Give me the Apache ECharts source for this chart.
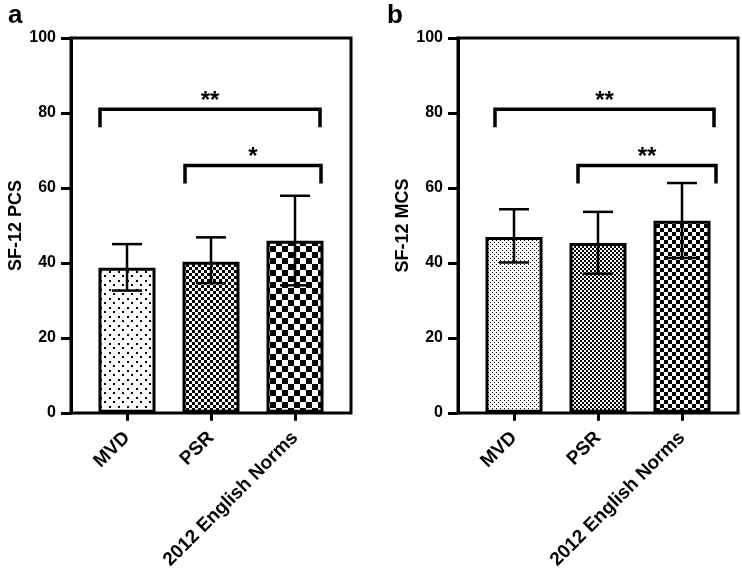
<!DOCTYPE html>
<html><head><meta charset="utf-8">
<script src="https://cdn.jsdelivr.net/npm/echarts@6/dist/echarts.min.js"></script>
<style>html,body{margin:0;padding:0;background:#fff}#c{width:742px;height:572px}</style>
</head><body><div id="c"></div>
<script>
// ---- data ----
const categories = ['MVD', 'PSR', '2012 English Norms'];
const yTicks = [0, 20, 40, 60, 80, 100];
const pcsMean = [38.7, 40.3, 45.9];
const pcsLow  = [32.6, 34.6, 34.0];
const pcsHigh = [45.0, 46.8, 57.9];
const mcsMean = [46.9, 45.3, 51.2];
const mcsLow  = [40.1, 37.1, 41.3];
const mcsHigh = [54.3, 53.6, 61.3];
// [fromCategory, toCategory, level, label]
const pcsBrackets = [[0, 2, 81, '**'], [1, 2, 66, '*']];
const mcsBrackets = [[0, 2, 81, '**'], [1, 2, 66, '**']];

// ---- styles ----
const FONT = 'Liberation Sans';
function pattern(size, draw) {
  const c = document.createElement('canvas');
  c.width = c.height = size;
  const ctx = c.getContext('2d');
  ctx.fillStyle = '#fff'; ctx.fillRect(0, 0, size, size);
  ctx.fillStyle = '#000'; draw(ctx, size);
  return { image: c, repeat: 'repeat' };
}
const checker = n => pattern(2 * n, ctx => { ctx.fillRect(0, 0, n, n); ctx.fillRect(n, n, n, n); });
const dots = pattern(9, ctx => { ctx.fillRect(1, 1, 2, 2); ctx.fillRect(5, 5, 2, 2); });
const stipple = pattern(4, ctx => { ctx.fillRect(0, 0, 1, 1); ctx.fillRect(2, 2, 1, 1); });
const pcsFills = [dots, checker(3), checker(6)];
const mcsFills = [stipple, checker(2), checker(4)];
// pixel offsets of bracket legs from category centres
const pcsLegOffsets = [[-27, 25], [-26, 26]];
const mcsLegOffsets = [[-19, 32], [-20, 34]];

function errRender(params, api) {
  const x = api.value(0);
  const top = api.coord([x, api.value(2)]);
  const bot = api.coord([x, api.value(1)]);
  const hw = 15;
  const style = { stroke: '#000', lineWidth: 2.5 };
  return { type: 'group', children: [
    { type: 'line', shape: { x1: top[0], y1: top[1], x2: bot[0], y2: bot[1] }, style },
    { type: 'line', shape: { x1: top[0] - hw, y1: top[1], x2: top[0] + hw, y2: top[1] }, style },
    { type: 'line', shape: { x1: bot[0] - hw, y1: bot[1], x2: bot[0] + hw, y2: bot[1] }, style }
  ]};
}
function bracketRender(offsets, labels) {
  return function (params, api) {
    const p1 = api.coord([api.value(0), api.value(2)]);
    const p2 = api.coord([api.value(1), api.value(2)]);
    const off = offsets[params.dataIndex];
    const x1 = p1[0] + off[0], x2 = p2[0] + off[1], y = p1[1];
    const leg = 18;
    return { type: 'group', children: [
      { type: 'polyline', shape: { points: [[x1, y + leg], [x1, y], [x2, y], [x2, y + leg]] },
        style: { stroke: '#000', lineWidth: 3.5, fill: null } },
      { type: 'text', style: { text: labels[params.dataIndex], x: (x1 + x2) / 2, y: y - 8,
        textAlign: 'center', textVerticalAlign: 'middle', font: 'bold 24px ' + FONT, fill: '#000' } }
    ]};
  };
}

const frameGrid = left => ({ left, top: 38, width: 280, height: 375, show: true,
  borderColor: '#000', borderWidth: 3, backgroundColor: 'transparent' });
const dataGrid = left => ({ left, top: 38, width: 252, height: 375 });
const frameY = (gi, name, gap) => ({ type: 'value', gridIndex: gi, min: yTicks[0], max: yTicks[yTicks.length - 1],
  interval: yTicks[1] - yTicks[0], splitLine: { show: false },
  axisLine: { show: true, lineStyle: { color: '#000', width: 3 } },
  axisTick: { show: true, length: 10, lineStyle: { color: '#000', width: 3 } },
  axisLabel: { color: '#000', fontSize: 16, fontWeight: 'bold', fontFamily: FONT, margin: 15 },
  name, nameLocation: 'middle', nameGap: gap,
  nameTextStyle: { color: '#000', fontSize: 18, fontWeight: 'bold', fontFamily: FONT } });
const dataY = gi => ({ type: 'value', gridIndex: gi, min: 0, max: 100, show: false });
const frameX = gi => ({ type: 'value', gridIndex: gi, show: false });
const dataX = gi => ({ type: 'category', gridIndex: gi, data: categories,
  axisLine: { show: false },
  axisTick: { show: true, alignWithLabel: true, length: 8, lineStyle: { color: '#000', width: 3 } },
  axisLabel: { rotate: 45, color: '#000', fontSize: 19, fontWeight: 'bold', fontFamily: FONT, margin: 22, interval: 0 } });

function panelSeries(axisIdx, mean, low, high, fills, brackets, offsets) {
  return [
    { type: 'bar', xAxisIndex: axisIdx, yAxisIndex: axisIdx, barWidth: 57,
      data: mean.map((v, i) => ({ value: v, itemStyle: { color: fills[i], borderColor: '#000', borderWidth: 3 } })),
      z: 2 },
    { type: 'custom', xAxisIndex: axisIdx, yAxisIndex: axisIdx, renderItem: errRender,
      data: mean.map((v, i) => [i, low[i], high[i]]), encode: { x: 0, y: [1, 2] }, z: 4 },
    { type: 'custom', xAxisIndex: axisIdx, yAxisIndex: axisIdx,
      renderItem: bracketRender(offsets, brackets.map(b => b[3])),
      data: brackets.map(b => [b[0], b[1], b[2]]), encode: { x: [0, 1], y: 2 }, z: 4 }
  ];
}

const chart = echarts.init(document.getElementById('c'));
chart.setOption({
  animation: false,
  backgroundColor: '#fff',
  title: [
    { text: 'a', left: 3, top: -2, textStyle: { fontSize: 26, fontWeight: 'bold', color: '#000', fontFamily: FONT } },
    { text: 'b', left: 382, top: -2, textStyle: { fontSize: 26, fontWeight: 'bold', color: '#000', fontFamily: FONT } }
  ],
  grid: [frameGrid(71), dataGrid(85), frameGrid(458), dataGrid(472)],
  xAxis: [frameX(0), dataX(1), frameX(2), dataX(3)],
  yAxis: [frameY(0, 'SF-12 PCS', 40), dataY(1), frameY(2, 'SF-12 MCS', 46), dataY(3)],
  series: [
    ...panelSeries(1, pcsMean, pcsLow, pcsHigh, pcsFills, pcsBrackets, pcsLegOffsets),
    ...panelSeries(3, mcsMean, mcsLow, mcsHigh, mcsFills, mcsBrackets, mcsLegOffsets)
  ]
});
</script></body></html>
